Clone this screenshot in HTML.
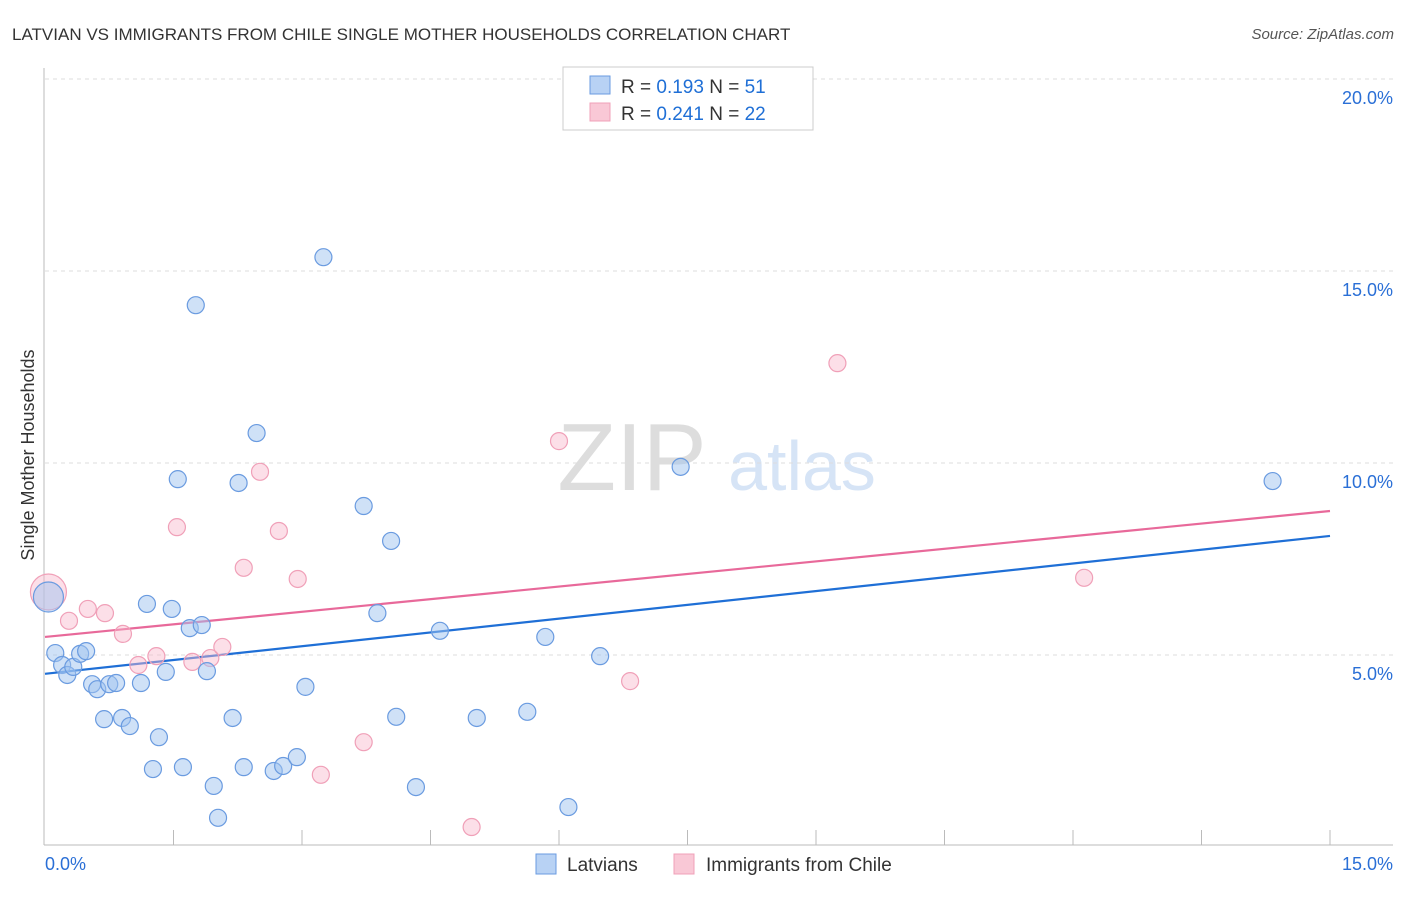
<!DOCTYPE html>
<html><head><meta charset="utf-8"><style>
body{margin:0;background:#fff;font-family:"Liberation Sans",sans-serif}
svg text{font-family:"Liberation Sans",sans-serif}
</style></head><body>
<svg id="c" width="1406" height="892">
<text x="12" y="40" font-size="17" fill="#333">LATVIAN VS IMMIGRANTS FROM CHILE SINGLE MOTHER HOUSEHOLDS CORRELATION CHART</text>
<text x="1394" y="39" font-size="15" fill="#555" font-style="italic" text-anchor="end">Source: ZipAtlas.com</text>
<g><text x="632" y="490" font-size="96" font-family="Liberation Serif" fill="#ddd" text-anchor="middle">ZIP</text><text x="802" y="490" font-size="70" fill="#d6e4f6" text-anchor="middle">atlas</text></g>
<text transform="translate(34,455) rotate(-90)" font-size="18" fill="#333" text-anchor="middle">Single Mother Households</text>
<g id="grid"></g><g id="lines"></g><g id="pts"></g>
<g>
<rect x="563" y="67" width="250" height="63" fill="#fff" stroke="#ccc"/>
<rect x="590" y="76" width="20" height="18" fill="#b8d2f4" stroke="#6a9be0"/>
<rect x="590" y="103" width="20" height="18" fill="#f9c8d6" stroke="#f0a0b8"/>
<text x="621" y="93" font-size="19" fill="#333">R = <tspan fill="#1f6fd6">0.193</tspan>   N = <tspan fill="#1f6fd6">51</tspan></text>
<text x="621" y="120" font-size="19" fill="#333">R = <tspan fill="#1f6fd6">0.241</tspan>   N = <tspan fill="#1f6fd6">22</tspan></text>
</g>
<g>
<rect x="536" y="854" width="20" height="20" fill="#b8d2f4" stroke="#6a9be0"/>
<text x="567" y="871" font-size="19" fill="#333">Latvians</text>
<rect x="674" y="854" width="20" height="20" fill="#f9c8d6" stroke="#f0a0b8"/>
<text x="706" y="871" font-size="19" fill="#333">Immigrants from Chile</text>
</g>
</svg>
<script>
const yTicks=[5,10,15,20];
const xTickLabels=["0.0%","15.0%"];
const blueX=[0.04,0.12,0.20,0.26,0.33,0.41,0.48,0.55,0.61,0.75,0.83,0.69,0.90,0.99,1.12,1.19,1.26,1.33,1.41,1.48,1.55,1.61,1.69,1.76,1.83,1.89,1.97,2.02,2.19,2.26,2.32,2.47,2.67,2.78,2.94,3.04,3.25,3.72,3.88,4.04,4.10,4.33,4.61,5.04,5.63,5.84,6.11,6.48,7.42,14.33];
const blueY=[6.51,5.05,4.74,4.48,4.69,5.03,5.10,4.24,4.11,4.24,4.27,3.33,3.36,3.15,4.27,6.33,2.03,2.86,4.56,6.20,9.58,2.08,5.70,14.11,5.78,4.58,1.59,0.76,3.36,9.48,2.08,10.78,1.98,2.11,2.34,4.17,15.36,8.88,6.09,7.97,3.39,1.56,5.63,3.36,3.52,5.47,1.04,4.97,9.90,9.53];
const pinkX=[0.04,0.28,0.50,0.70,0.91,1.09,1.30,1.54,1.72,1.93,2.07,2.32,2.51,2.73,2.95,3.22,3.72,4.98,6.00,6.83,9.25,12.13];
const pinkY=[6.64,5.89,6.20,6.09,5.55,4.74,4.97,8.33,4.82,4.92,5.21,7.27,9.77,8.23,6.98,1.88,2.73,0.52,10.57,4.32,12.60,7.01];
const blueTrend=[4.51,8.10];
const pinkTrend=[5.47,8.75];
const NS="http://www.w3.org/2000/svg";
const X=v=>45+v/15*1285, Y=v=>847-v*38.4;
function mk(t,a,p){const e=document.createElementNS(NS,t);for(const k in a)e.setAttribute(k,a[k]);p.appendChild(e);return e;}
const g=document.getElementById('grid');
yTicks.forEach(t=>{
 const l=mk('line',{x1:45,x2:1393,y1:Y(t),y2:Y(t),stroke:'#ddd','stroke-dasharray':'4,4'},g);
 
 
 const tx=mk('text',{x:1393,y:Y(t)+25,'font-size':18,fill:'#2a6fd6','text-anchor':'end'},g);
 tx.textContent=t.toFixed(1)+'%';
 
 
});
const ax=mk('line',{x1:44,x2:44,y1:68,y2:845,stroke:'#bbb'},g);


const bx=mk('line',{x1:44,x2:1393,y1:845,y2:845,stroke:'#bbb'},g);


for(let i=1;i<=10;i++){const t=mk('line',{x1:X(i*1.5),x2:X(i*1.5),y1:830,y2:845,stroke:'#bbb'},g);
 
 }
[[45,'start',xTickLabels[0]],[1393,'end',xTickLabels[1]]].forEach(([x,a,s])=>{const t=mk('text',{x:x,y:870,'font-size':18,fill:'#2a6fd6','text-anchor':a},g);t.textContent=s;
 
 });
const L=document.getElementById('lines');
const bl=mk('line',{x1:X(0),y1:Y(blueTrend[0]),x2:X(15),y2:Y(blueTrend[1]),stroke:'#1f6fd6','stroke-width':2.2},L);


const pl=mk('line',{x1:X(0),y1:Y(pinkTrend[0]),x2:X(15),y2:Y(pinkTrend[1]),stroke:'#e8699a','stroke-width':2.2},L);


const P=document.getElementById('pts');
pinkX.forEach((x,i)=>{const c=mk('circle',{cx:X(x),cy:Y(pinkY[i]),r:i==0?18:8.5,fill:'rgba(248,185,204,0.45)',stroke:'#f0a0b8','stroke-width':1.2},P);
 
 });
blueX.forEach((x,i)=>{const c=mk('circle',{cx:X(x),cy:Y(blueY[i]),r:i==0?15:8.5,fill:'rgba(160,196,240,0.5)',stroke:'#6a9be0','stroke-width':1.2},P);
 
 });
</script>
</body></html>
